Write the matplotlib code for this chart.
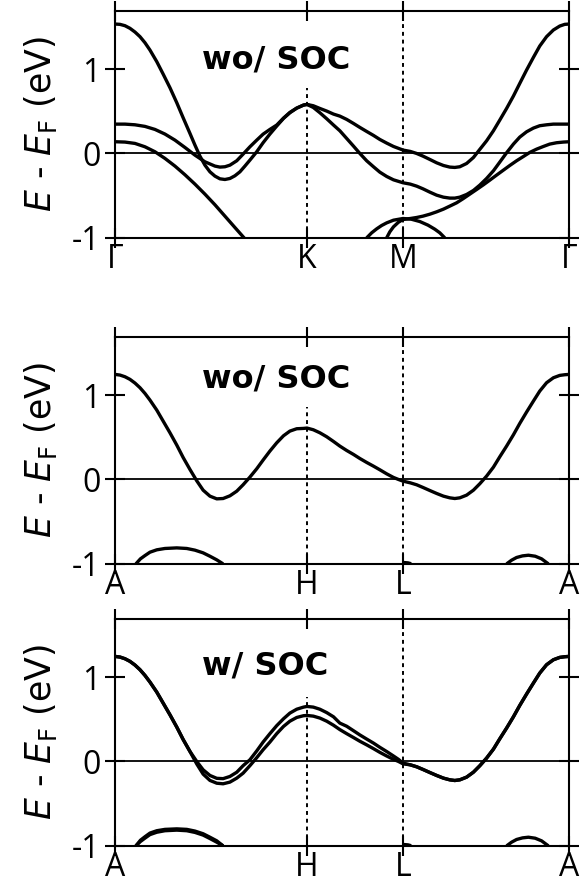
import matplotlib
matplotlib.use("Agg")
import matplotlib.pyplot as plt

# ---------------------------------------------------------------------------
# Band energies (E - E_F, eV); k is the fractional distance along each path
# ---------------------------------------------------------------------------
KPTS = [0.0, 0.4226, 0.634, 1.0]
LABELS_KZ0 = ["Γ", "K", "M", "Γ"]
LABELS_KZPI = ["A", "H", "L", "A"]

# --- kz = 0 plane (Γ-K-M-Γ), without SOC ---
g1_k = [0, 0.011, 0.022, 0.033, 0.044, 0.055, 0.066, 0.077, 0.092, 0.106, 0.121,
        0.136, 0.150, 0.165, 0.176, 0.187, 0.198, 0.209, 0.220, 0.231, 0.242, 0.253,
        0.264, 0.275, 0.286, 0.297, 0.312, 0.326, 0.341, 0.356, 0.371, 0.385, 0.400,
        0.415, 0.4226]
g1_e = [1.536, 1.532, 1.516, 1.485, 1.441, 1.386, 1.314, 1.227, 1.089, 0.942, 0.780,
        0.602, 0.424, 0.238, 0.099, -0.032, -0.139, -0.218, -0.269, -0.301, -0.309, -0.297,
        -0.265, -0.218, -0.150, -0.079, 0.020, 0.127, 0.230, 0.325, 0.416, 0.483, 0.538,
        0.574, 0.582]

g2_k = [0, 0.022, 0.044, 0.066, 0.088, 0.110, 0.132, 0.154, 0.176, 0.198, 0.220,
        0.231, 0.242, 0.253, 0.268, 0.282, 0.297, 0.312, 0.326, 0.341, 0.356, 0.371,
        0.385, 0.400, 0.415, 0.4226]
g2_e = [0.348, 0.348, 0.340, 0.321, 0.285, 0.230, 0.158, 0.071, -0.020, -0.099, -0.150,
        -0.162, -0.158, -0.139, -0.087, -0.008, 0.079, 0.158, 0.229, 0.285, 0.337, 0.420,
        0.487, 0.538, 0.574, 0.582]

g3_k = [0, 0.022, 0.044, 0.066, 0.088, 0.110, 0.132, 0.154, 0.176, 0.198, 0.220,
        0.242, 0.264, 0.286]
g3_e = [0.139, 0.135, 0.119, 0.079, 0.020, -0.059, -0.150, -0.253, -0.364, -0.483, -0.609,
        -0.744, -0.879, -1.013]

g4_k = [0.4226, 0.4365, 0.451, 0.466, 0.481, 0.495, 0.510, 0.525, 0.539, 0.554, 0.569,
        0.583, 0.598, 0.613, 0.634, 0.650, 0.664, 0.678, 0.693, 0.708, 0.723, 0.737,
        0.748, 0.759, 0.774, 0.789, 0.803, 0.818, 0.833, 0.847, 0.862, 0.877, 0.891,
        0.906, 0.921, 0.935, 0.950, 0.965, 0.979, 0.990, 1.0]
g4_e = [0.582, 0.566, 0.534, 0.503, 0.467, 0.443, 0.404, 0.356, 0.309, 0.261, 0.214,
        0.166, 0.123, 0.083, 0.040, 0.024, 0.0, -0.032, -0.071, -0.111, -0.143, -0.162,
        -0.166, -0.158, -0.119, -0.048, 0.048, 0.150, 0.269, 0.396, 0.534, 0.681, 0.831,
        0.990, 1.140, 1.275, 1.386, 1.465, 1.512, 1.532, 1.536]

g5_k = [0.4226, 0.4365, 0.451, 0.466, 0.481, 0.495, 0.510, 0.525, 0.539, 0.554, 0.569,
        0.583, 0.598, 0.613, 0.634, 0.650, 0.664, 0.678, 0.693, 0.708, 0.723, 0.737,
        0.748, 0.759, 0.774, 0.789, 0.803, 0.818, 0.833, 0.847, 0.862, 0.877, 0.891,
        0.906, 0.921, 0.935, 0.950, 0.965, 0.979, 1.0]
g5_e = [0.582, 0.546, 0.483, 0.412, 0.337, 0.269, 0.178, 0.087, 0.0, -0.087, -0.158,
        -0.222, -0.273, -0.313, -0.348, -0.364, -0.388, -0.420, -0.459, -0.495, -0.519, -0.530,
        -0.530, -0.519, -0.487, -0.439, -0.376, -0.297, -0.206, -0.103, 0.008, 0.111, 0.194,
        0.257, 0.301, 0.329, 0.340, 0.348, 0.348, 0.348]

g6_k = [0.598, 0.605, 0.613, 0.624, 0.634, 0.650, 0.664, 0.678, 0.693, 0.708, 0.723,
        0.737, 0.752, 0.766, 0.781, 0.796, 0.811, 0.825, 0.840, 0.855, 0.869, 0.884,
        0.899, 0.913, 0.928, 0.943, 0.957, 0.972, 0.987, 1.0]
g6_e = [-1.002, -0.930, -0.871, -0.816, -0.784, -0.772, -0.760, -0.744, -0.721, -0.693, -0.661,
        -0.625, -0.586, -0.538, -0.483, -0.428, -0.372, -0.317, -0.257, -0.198, -0.143, -0.087,
        -0.036, 0.012, 0.051, 0.083, 0.111, 0.127, 0.135, 0.139]

g7_k = [0.554, 0.565, 0.576, 0.587, 0.598, 0.613, 0.634, 0.652, 0.671, 0.689, 0.704,
        0.715, 0.726]
g7_e = [-1.002, -0.942, -0.895, -0.855, -0.824, -0.792, -0.772, -0.780, -0.808, -0.851, -0.899,
        -0.942, -1.002]

# --- kz = pi plane (A-H-L-A), without SOC ---
h1_k = [0, 0.011, 0.022, 0.033, 0.044, 0.055, 0.066, 0.077, 0.092, 0.106, 0.121,
        0.136, 0.150, 0.165, 0.180, 0.194, 0.209, 0.224, 0.238, 0.253, 0.268, 0.282,
        0.297, 0.312, 0.326, 0.341, 0.356, 0.371, 0.385, 0.400, 0.415, 0.4226, 0.4365,
        0.451, 0.466, 0.481, 0.495, 0.510, 0.525, 0.539, 0.554, 0.569, 0.583, 0.598,
        0.613, 0.624, 0.634, 0.650, 0.664, 0.678, 0.693, 0.708, 0.723, 0.737, 0.748,
        0.759, 0.774, 0.789, 0.803, 0.818, 0.833, 0.847, 0.862, 0.877, 0.891, 0.906,
        0.921, 0.935, 0.950, 0.965, 0.979, 0.990, 1.0]
h1_e = [1.247, 1.239, 1.219, 1.188, 1.144, 1.089, 1.021, 0.942, 0.823, 0.693, 0.554,
        0.408, 0.261, 0.119, -0.016, -0.127, -0.198, -0.230, -0.226, -0.194, -0.139, -0.063,
        0.028, 0.127, 0.230, 0.337, 0.435, 0.519, 0.574, 0.602, 0.606, 0.610, 0.590,
        0.554, 0.507, 0.451, 0.396, 0.344, 0.297, 0.249, 0.202, 0.158, 0.115, 0.067,
        0.024, 0.0, -0.020, -0.040, -0.063, -0.095, -0.131, -0.166, -0.198, -0.218, -0.226,
        -0.218, -0.186, -0.127, -0.051, 0.040, 0.146, 0.269, 0.396, 0.530, 0.665, 0.800,
        0.930, 1.049, 1.148, 1.207, 1.235, 1.243, 1.247]

arc_l_k = [0.046, 0.056, 0.066, 0.077, 0.092, 0.110, 0.136, 0.158, 0.176, 0.194, 0.209,
           0.224, 0.238]
h2_e = [-1.002, -0.942, -0.903, -0.863, -0.835, -0.819, -0.812, -0.819, -0.839, -0.871, -0.911,
        -0.954, -1.002]

arc_r_k = [0.862, 0.873, 0.884, 0.897, 0.910, 0.925, 0.939, 0.954]
arc_r_e = [-1.002, -0.958, -0.926, -0.907, -0.899, -0.911, -0.942, -1.002]

stub_k = [0.634, 0.645, 0.652]
stub_e = [-0.985, -0.990, -1.0]

# --- kz = pi plane, with SOC ---
soc_head_k = [0, 0.011, 0.022, 0.033, 0.044, 0.055, 0.066, 0.077, 0.092, 0.106, 0.121,
              0.136, 0.150, 0.165]
soc_head_e = [1.247, 1.239, 1.219, 1.188, 1.144, 1.089, 1.021, 0.942, 0.823, 0.693, 0.554,
              0.408, 0.261, 0.119]

soc_mid_k = [0.180, 0.194, 0.209, 0.224, 0.238, 0.253, 0.268, 0.282, 0.297, 0.312, 0.326,
             0.341, 0.356, 0.371, 0.385, 0.400, 0.415, 0.4226, 0.4365, 0.451, 0.466, 0.481,
             0.495, 0.510, 0.525, 0.539, 0.554, 0.569, 0.583, 0.598, 0.613, 0.624, 0.634]
s1_mid_e = [0.0, -0.099, -0.166, -0.200, -0.204, -0.178, -0.128, -0.050, 0.020, 0.125, 0.230,
            0.330, 0.425, 0.507, 0.574, 0.620, 0.645, 0.653, 0.645, 0.620, 0.580, 0.530,
            0.455, 0.418, 0.365, 0.315, 0.266, 0.218, 0.168, 0.118, 0.065, 0.025, -0.020]
s2_mid_e = [-0.030, -0.150, -0.225, -0.258, -0.265, -0.245, -0.198, -0.139, -0.050, 0.045, 0.139,
            0.230, 0.330, 0.416, 0.478, 0.522, 0.543, 0.546, 0.538, 0.515, 0.478, 0.430,
            0.378, 0.330, 0.284, 0.240, 0.197, 0.152, 0.108, 0.065, 0.025, 0.0, -0.028]

soc_tail_k = [0.650, 0.664, 0.678, 0.693, 0.708, 0.723, 0.737, 0.748, 0.759, 0.774, 0.789,
              0.803, 0.818, 0.833, 0.847, 0.862, 0.877, 0.891, 0.906, 0.921, 0.935, 0.950,
              0.965, 0.979, 0.990, 1.0]
soc_tail_e = [-0.040, -0.063, -0.095, -0.131, -0.166, -0.198, -0.218, -0.226, -0.218, -0.186, -0.127,
              -0.051, 0.040, 0.146, 0.269, 0.396, 0.530, 0.665, 0.800, 0.930, 1.049, 1.148,
              1.207, 1.235, 1.243, 1.247]

s3_e = [-1.002, -0.935, -0.893, -0.850, -0.822, -0.806, -0.800, -0.806, -0.826, -0.858, -0.899,
        -0.942, -1.002]
s4_e = [-1.002, -0.950, -0.910, -0.868, -0.840, -0.822, -0.815, -0.822, -0.842, -0.874, -0.915,
        -0.958, -1.002]

s1_k = soc_head_k + soc_mid_k + soc_tail_k
s1_e = soc_head_e + s1_mid_e + soc_tail_e
s2_k = soc_head_k + soc_mid_k + soc_tail_k
s2_e = soc_head_e + s2_mid_e + soc_tail_e

# ---------------------------------------------------------------------------
# Figure
# ---------------------------------------------------------------------------
plt.rcParams.update({
    "font.family": ["Open Sans", "DejaVu Sans"],
    "mathtext.fontset": "dejavusans",
    "axes.unicode_minus": False,
})

LW = 2.4
fig = plt.figure(figsize=(5.84, 8.84), dpi=100)

panels = [
    dict(rect=[0.1969, 0.7311, 0.7779, 0.2564], labels=LABELS_KZ0,
         bands=[(g1_k, g1_e), (g2_k, g2_e), (g3_k, g3_e), (g4_k, g4_e),
                (g5_k, g5_e), (g6_k, g6_e), (g7_k, g7_e)],
         title="wo/ SOC", title_y=1.01, cut=0.772),
    dict(rect=[0.1969, 0.3623, 0.7779, 0.2564], labels=LABELS_KZPI,
         bands=[(h1_k, h1_e), (arc_l_k, h2_e), (arc_r_k, arc_r_e), (stub_k, stub_e)],
         title="wo/ SOC", title_y=1.088, cut=0.86),
    dict(rect=[0.1969, 0.0433, 0.7779, 0.2564], labels=LABELS_KZPI,
         bands=[(s1_k, s1_e), (s2_k, s2_e), (arc_l_k, s3_e), (arc_l_k, s4_e),
                (arc_r_k, arc_r_e), (stub_k, stub_e)],
         title="w/ SOC", title_y=1.028, cut=0.77),
]

for p in panels:
    ax = fig.add_axes(p["rect"])
    for k, e in p["bands"]:
        ax.plot(k, e, color="k", lw=LW, solid_capstyle="butt", solid_joinstyle="round")

    ax.axhline(0, color="k", lw=1.3, zorder=1)
    ax.vlines(KPTS[1], -1, p["cut"], colors="k", linestyles=(0, (2, 2)), lw=1.4, zorder=1)
    ax.vlines(KPTS[2], -1, 1.69, colors="k", linestyles=(0, (2, 2)), lw=1.4, zorder=1)

    ax.text(0.191, p["title_y"], p["title"], transform=ax.get_yaxis_transform(),
            family="DejaVu Sans", fontsize=23, fontweight="bold",
            ha="left", va="baseline")

    ax.set_xlim(0, 1)
    ax.set_ylim(-1, 1.69)
    ax.set_xticks(KPTS)
    ax.set_xticklabels(p["labels"])
    ax.set_yticks([-1, 0, 1])
    ax.set_yticklabels(["-1", "0", "1"])
    ax.tick_params(direction="inout", length=15, width=1.5, top=True, right=True,
                   labelsize=23)
    ax.tick_params(axis="x", pad=-4)
    ax.tick_params(axis="y", pad=3)
    for s in ax.spines.values():
        s.set_linewidth(1.5)
    ax.set_ylabel("$E$ - $E_\\mathrm{F}$ (eV)", family="DejaVu Sans", fontsize=25,
                  labelpad=9)

fig.savefig("out.png", dpi=100)
